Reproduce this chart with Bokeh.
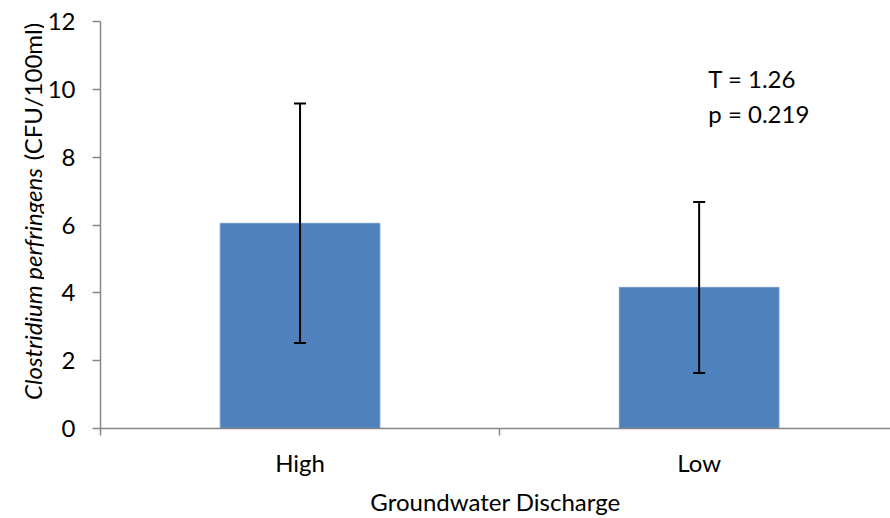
import math
from bokeh.plotting import figure
from bokeh.layouts import row
from bokeh.models import (ColumnDataSource, Range1d, FixedTicker, Whisker, TeeHead, Label)
from bokeh.core.properties import value
from bokeh.embed import file_html
from bokeh.resources import INLINE

# ---- data ----
categories = ["High", "Low"]
means = [6.05, 4.16]
errors = [3.53, 2.52]
y_ticks = [0, 2, 4, 6, 8, 10, 12]
x_title = "Groundwater Discharge"
y_title_italic = "Clostridium perfringens"
y_title_normal = "(CFU/100ml)"
stat_lines = ["T = 1.26", "p = 0.219"]

FONT = "Lato"
FS = "24px"
W, H = 890, 518
LEFT_W = 44
TOP, BOTTOM = 21, 89

positions = [i + 0.5 for i in range(len(categories))]
src = ColumnDataSource(dict(
    x=positions, top=means,
    upper=[m + e for m, e in zip(means, errors)],
    lower=[m - e for m, e in zip(means, errors)],
))

# ---- narrow strip holding the mixed-style y title (pixel coordinates, y up) ----
t = figure(width=LEFT_W, height=H, output_backend="svg", toolbar_location=None,
           x_range=Range1d(0, LEFT_W), y_range=Range1d(BOTTOM, H - TOP),
           x_axis_location=None, y_axis_location=None, title=None)
t.min_border_left = 0
t.min_border_right = 0
t.min_border_top = TOP
t.min_border_bottom = BOTTOM
t.outline_line_color = None
t.xgrid.visible = False
t.ygrid.visible = False
t.background_fill_color = "white"
t.border_fill_color = "white"
t.text(x=[32], y=[H - 168], text=[y_title_italic], angle=math.pi / 2,
       text_align="right", text_baseline="alphabetic", text_font=value(FONT),
       text_font_style="italic", text_font_size=FS, text_color="black")
t.text(x=[32], y=[H - 160], text=[y_title_normal], angle=math.pi / 2,
       text_align="left", text_baseline="alphabetic", text_font=value(FONT),
       text_font_style="normal", text_font_size=FS, text_color="black")

# ---- main chart ----
p = figure(width=W - LEFT_W, height=H, output_backend="svg", toolbar_location=None,
           x_range=Range1d(0, 1.9795), y_range=Range1d(0, 12))
p.min_border_left = 97 - LEFT_W
p.min_border_right = 0
p.min_border_top = TOP
p.min_border_bottom = BOTTOM
p.outline_line_color = None
p.xgrid.visible = False
p.ygrid.visible = False
p.background_fill_color = "white"
p.border_fill_color = "white"

p.vbar(x="x", top="top", bottom=0, width=0.4, source=src,
       fill_color="#4F81BD", line_color="#6E96C8", line_width=1)

w = Whisker(base="x", upper="upper", lower="lower", source=src, level="overlay",
            line_color="black", line_width=2,
            upper_head=TeeHead(size=12, line_color="black", line_width=2),
            lower_head=TeeHead(size=12, line_color="black", line_width=2))
p.add_layout(w)

AX = "#868686"
# x axis
xa = p.xaxis[0]
xa.ticker = FixedTicker(ticks=positions, minor_ticks=[0, 1, 2])
xa.major_label_overrides = {pos: c for pos, c in zip(positions, categories)}
xa.axis_line_color = AX
xa.axis_line_width = 1.5
xa.major_tick_line_color = None
xa.major_tick_out = 0
xa.major_tick_in = 0
xa.minor_tick_line_color = AX
xa.minor_tick_line_width = 1.5
xa.minor_tick_out = 7
xa.minor_tick_in = 0
xa.major_label_text_font = FONT
xa.major_label_text_font_size = FS
xa.major_label_text_color = "black"
xa.major_label_standoff = 12
xa.axis_label = x_title
xa.axis_label_text_font = FONT
xa.axis_label_text_font_size = FS
xa.axis_label_text_font_style = "normal"
xa.axis_label_text_color = "black"
xa.axis_label_standoff = 7

# y axis
ya = p.yaxis[0]
ya.ticker = FixedTicker(ticks=y_ticks, minor_ticks=[])
ya.axis_line_color = AX
ya.axis_line_width = 1.5
ya.major_tick_line_color = AX
ya.major_tick_line_width = 1.5
ya.major_tick_out = 8
ya.major_tick_in = 0
ya.minor_tick_line_color = None
ya.major_label_text_font = FONT
ya.major_label_text_font_size = FS
ya.major_label_text_color = "black"
ya.major_label_standoff = 17

# stats annotation
p.add_layout(Label(x=1.523, y=10.33, text=stat_lines[0], text_align="left",
                   text_baseline="alphabetic", text_font=FONT, text_font_size=FS,
                   text_color="black"))
p.add_layout(Label(x=1.523, y=9.30, text=stat_lines[1], text_align="left",
                   text_baseline="alphabetic", text_font=FONT, text_font_size=FS,
                   text_color="black"))

layout = row(t, p, spacing=0)
open("out.html", "w").write(file_html(layout, INLINE))
